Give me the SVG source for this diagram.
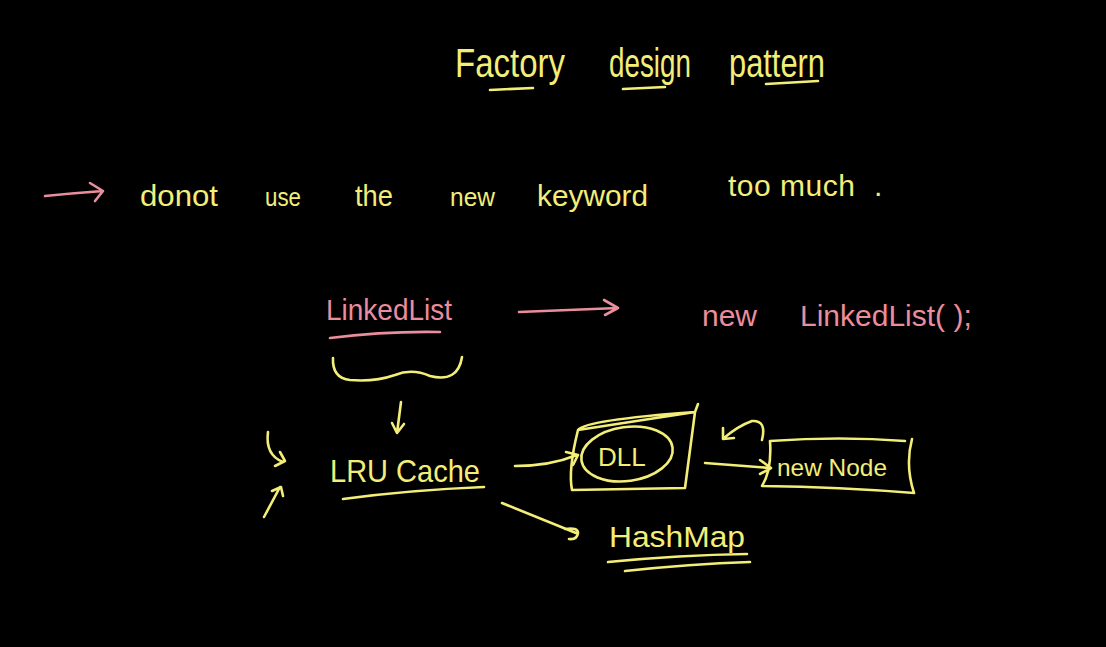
<svg xmlns="http://www.w3.org/2000/svg" width="1106" height="647" viewBox="0 0 1106 647">
<defs>
<style>
.y{fill:#f3ee78;font-family:"Liberation Sans",Arial,sans-serif;}
.p{fill:#ea8d9c;font-family:"Liberation Sans",Arial,sans-serif;}
.ys{fill:none;stroke:#f3ee78;stroke-width:2.6;stroke-linecap:round;stroke-linejoin:round;}
.ps{fill:none;stroke:#ea8d9c;stroke-width:2.6;stroke-linecap:round;stroke-linejoin:round;}
</style>
</defs>
<rect width="1106" height="647" fill="#000"/>
<g id="title">
<text class="y" x="455" y="77" font-size="40" textLength="110" lengthAdjust="spacingAndGlyphs">Factory</text>
<text class="y" x="609" y="77" font-size="40" textLength="82" lengthAdjust="spacingAndGlyphs">design</text>
<text class="y" x="729" y="77" font-size="40" textLength="96" lengthAdjust="spacingAndGlyphs">pattern</text>
<path class="ys" d="M490 90 L533 88 M623 89 L665 87 M766 84 L818 81"/>
</g>
<g id="statement">
<text class="y" x="140" y="206" font-size="30" textLength="78" lengthAdjust="spacingAndGlyphs">donot</text>
<text class="y" x="265" y="206" font-size="26" textLength="36" lengthAdjust="spacingAndGlyphs">use</text>
<text class="y" x="355" y="206" font-size="30" textLength="38" lengthAdjust="spacingAndGlyphs">the</text>
<text class="y" x="450" y="206" font-size="26" textLength="45" lengthAdjust="spacingAndGlyphs">new</text>
<text class="y" x="537" y="206" font-size="30" textLength="111" lengthAdjust="spacingAndGlyphs">keyword</text>
<text class="y" x="728" y="196" font-size="30" textLength="127" lengthAdjust="spacing">too much</text>
<text class="y" x="874" y="196" font-size="30">.</text>
</g>
<g id="linkedlist">
<text class="p" x="326" y="320" font-size="30" textLength="126" lengthAdjust="spacingAndGlyphs">LinkedList</text>
<path class="ps" d="M330 338 Q385 331 440 332"/>
</g>
<g id="newLinkedList">
<text class="p" x="702" y="326" font-size="30">new</text>
<text class="p" x="800" y="326" font-size="30">LinkedList( );</text>
</g>
<g id="lrucache">
<text class="y" x="330" y="482" font-size="32" textLength="150" lengthAdjust="spacingAndGlyphs">LRU Cache</text>
<path class="ys" d="M343 499 Q410 490 484 487"/>
</g>
<g id="dll">
<path class="ys" d="M578 430 Q585 420 695 412 L698 404 M695 412 L685 488 L572 490 Q568 470 578 430 Z"/>
<ellipse class="ys" cx="627" cy="454" rx="46" ry="27" transform="rotate(-8 627 454)"/>
<text class="y" x="598" y="466" font-size="26">DLL</text>
</g>
<g id="newnode">
<path class="ys" d="M770 441 Q840 436 905 441 M912 439 Q905 465 914 493 Q840 487 762 486 Q772 470 770 441"/>
<text class="y" x="777" y="476" font-size="24" textLength="110" lengthAdjust="spacingAndGlyphs">new Node</text>
</g>
<g id="hashmap">
<text class="y" x="609" y="547" font-size="30" textLength="136" lengthAdjust="spacingAndGlyphs">HashMap</text>
<path class="ys" d="M608 562 Q680 555 747 554 M625 571 Q690 564 750 562"/>
</g>
<g id="connectors">
<path class="ps" d="M45 196 Q75 193 103 191 M90 183 L103 191 L95 201"/>
<path class="ps" d="M519 312 L618 308 M604 300 L618 308 L605 315"/>
<path class="ys" d="M333 358 Q332 378 350 380 Q375 382 395 375 Q412 368 430 376 Q458 383 462 357"/>
<path class="ys" d="M401 402 L397 433 M392 423 L397 433 L404 424"/>
<path class="ys" d="M268 432 Q265 455 283 462 M275 466 L285 461 L280 452"/>
<path class="ys" d="M264 517 L280 487 M272 491 L281 487 L283 496"/>
<path class="ys" d="M515 466 Q550 466 577 455 M566 452 L578 455 L573 465"/>
<path class="ys" d="M705 463 L770 468 M760 460 L771 468 L760 474"/>
<path class="ys" d="M762 440 Q767 420 752 421 Q738 426 724 438 M723 428 L723 439 L734 438"/>
<path class="ys" d="M502 503 L576 533 M565 529 Q578 527 578 533 Q577 540 569 539"/>
</g>
</svg>
